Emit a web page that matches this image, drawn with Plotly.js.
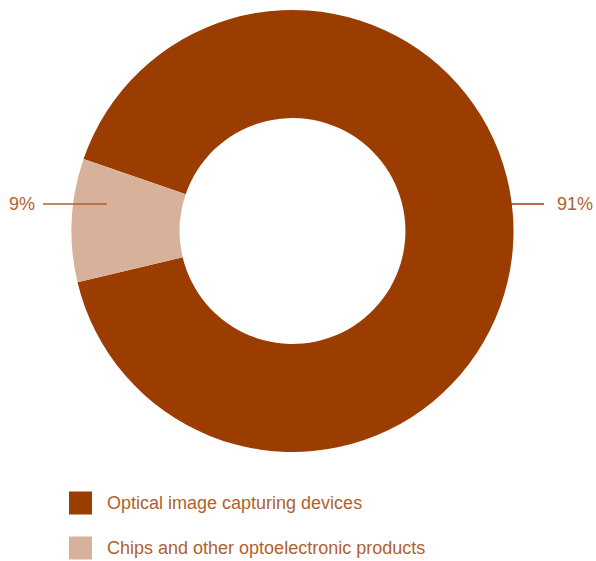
<!DOCTYPE html>
<html>
<head>
<meta charset="utf-8">
<script src="https://cdn.plot.ly/plotly-3.0.1.min.js"></script>
<style>html,body{margin:0;padding:0;background:#fff;}#chart{width:596px;height:561px;}</style>
</head>
<body>
<div id="chart"></div>
<script>
const categories = ["Optical image capturing devices", "Chips and other optoelectronic products"];
const values = [91, 9];
const colors = ["#9b3c00", "#d8b19a"];
const textColor = "#b0612e";
const font = "Liberation Sans, Arial, sans-serif";

const total = values.reduce((a, b) => a + b, 0);
const pct = values.map(v => Math.round(v / total * 100) + "%");

const W = 596, H = 561;
const cx = 292.5, cy = 231, R = 221;

const trace = {
  type: "pie",
  labels: categories,
  values: values,
  sort: false,
  direction: "clockwise",
  rotation: 289,
  hole: 0.511,
  marker: {colors: colors, line: {width: 0}},
  textinfo: "none",
  hoverinfo: "label+percent",
  showlegend: false,
  domain: {x: [(cx - R) / W, (cx + R) / W], y: [(H - cy - R) / H, (H - cy + R) / H]}
};

// label lines and texts (91% on right, 9% on left)
const labelY = 1 - 204 / H;
const shapes = [
  {type: "line", xref: "paper", yref: "paper", x0: 511 / W, x1: 544 / W, y0: labelY, y1: labelY, line: {color: colors[0], width: 1.3}},
  {type: "line", xref: "paper", yref: "paper", x0: 43 / W, x1: 107 / W, y0: labelY, y1: labelY, line: {color: textColor, width: 1.3}}
];
const annotations = [
  {xref: "paper", yref: "paper", x: 555 / W, y: labelY, xanchor: "left", yanchor: "middle", text: pct[0], showarrow: false, font: {family: font, size: 18, color: textColor}},
  {xref: "paper", yref: "paper", x: 37 / W, y: labelY, xanchor: "right", yanchor: "middle", text: pct[1], showarrow: false, font: {family: font, size: 18, color: textColor}}
];

// custom legend
const legendYs = [503, 548];
categories.forEach((c, i) => {
  const yc = legendYs[i];
  shapes.push({type: "rect", xref: "paper", yref: "paper", x0: 69 / W, x1: 92 / W, y0: 1 - (yc - 11.5) / H, y1: 1 - (yc + 11.5) / H, fillcolor: colors[i], line: {width: 0}});
  annotations.push({xref: "paper", yref: "paper", x: 105 / W, y: 1 - yc / H, xanchor: "left", yanchor: "middle", text: c, showarrow: false, font: {family: font, size: 18, color: textColor}});
});

const layout = {
  width: W, height: H,
  margin: {l: 0, r: 0, t: 0, b: 0},
  paper_bgcolor: "#fff",
  plot_bgcolor: "#fff",
  showlegend: false,
  shapes: shapes,
  annotations: annotations
};

Plotly.newPlot("chart", [trace], layout, {displayModeBar: false, staticPlot: true});
</script>
</body>
</html>
